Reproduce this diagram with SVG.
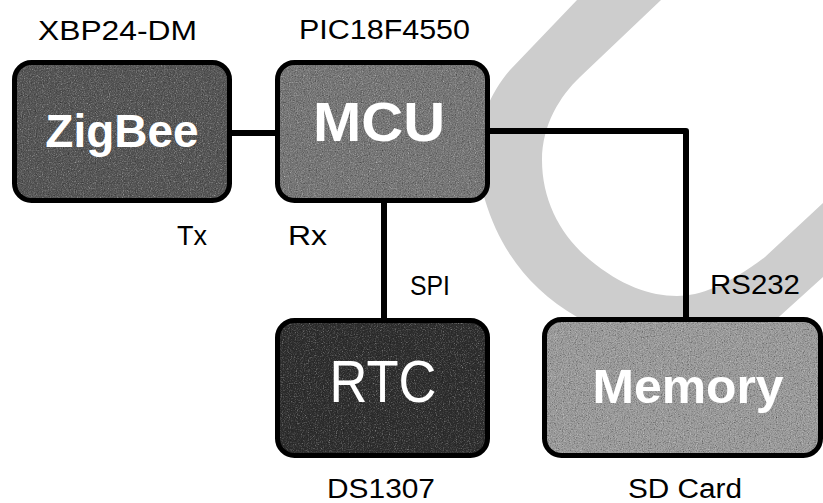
<svg xmlns="http://www.w3.org/2000/svg" width="823" height="503" viewBox="0 0 823 503">
  <style>
    .box { stroke: #000; stroke-width: 5; }
    .frame { fill: none; stroke: #000; stroke-width: 5; }
    .name { font-family: "Liberation Sans", Arial, sans-serif; font-weight: bold; fill: #fff; text-anchor: middle; }
    .lbl { font-family: "Liberation Sans", Arial, sans-serif; font-size: 27px; fill: #000; }
    .wire { fill: none; stroke: #000; stroke-width: 6; stroke-linejoin: round; }
  </style>
  <defs>
    <filter id="grain" x="0" y="0" width="100%" height="100%" color-interpolation-filters="sRGB">
      <feTurbulence type="fractalNoise" baseFrequency="0.85" numOctaves="3" seed="7" result="noise"/>
      <feColorMatrix in="noise" type="saturate" values="0" result="gray"/>
      <feBlend in="SourceGraphic" in2="gray" mode="overlay" result="mix"/>
      <feComposite in="mix" in2="SourceGraphic" operator="in"/>
    </filter>
  </defs>
  <rect width="823" height="503" fill="#fff"/>
  <!-- background band -->
  <path d="M577,0 L661,0 L580,77 C560,96 542,125 542,160 C542,200 560,235 590,260 C620,285 650,296 677,296 C700,296 728,285 765,257 L823,203 L823,277 L770,325 C750,338 725,345 700,346 C660,348 620,340 577,317 C530,290 500,250 485,200 C470,150 480,105 510,70 Z" fill="#cdcdcd"/>
  <g id="connectors">
    <line class="wire" x1="230" y1="133" x2="278" y2="133"/>
    <path class="wire" d="M487,131 L686,131 L686,320"/>
    <line class="wire" x1="384" y1="200" x2="384" y2="322"/>
  </g>
  <g id="zigbee">
    <rect x="14.5" y="62.5" width="215" height="138" rx="17" fill="#555" filter="url(#grain)"/>
    <rect class="frame" x="14.5" y="62.5" width="215" height="138" rx="17"/>
    <text class="name" x="122" y="147" font-size="46">ZigBee</text>
    <text class="lbl" x="38" y="40" textLength="159" lengthAdjust="spacingAndGlyphs">XBP24-DM</text>
    <text class="lbl" x="177" y="245" textLength="30" lengthAdjust="spacingAndGlyphs">Tx</text>
  </g>
  <g id="mcu">
    <rect x="277.5" y="62.5" width="210" height="138" rx="17" fill="#767676" filter="url(#grain)"/>
    <rect class="frame" x="277.5" y="62.5" width="210" height="138" rx="17"/>
    <text class="name" x="379" y="141" font-size="56" textLength="132" lengthAdjust="spacingAndGlyphs">MCU</text>
    <text class="lbl" x="299" y="39" textLength="171" lengthAdjust="spacingAndGlyphs">PIC18F4550</text>
    <text class="lbl" x="288" y="245" textLength="39" lengthAdjust="spacingAndGlyphs">Rx</text>
  </g>
  <g id="rtc">
    <rect x="277.5" y="320.5" width="210" height="135" rx="17" fill="#2e2e2e" filter="url(#grain)"/>
    <rect class="frame" x="277.5" y="320.5" width="210" height="135" rx="17"/>
    <text class="name" x="383" y="402" font-size="60" font-weight="normal" style="font-weight:normal" textLength="107" lengthAdjust="spacingAndGlyphs">RTC</text>
    <text class="lbl" x="410" y="295" textLength="40" lengthAdjust="spacingAndGlyphs">SPI</text>
    <text class="lbl" x="327" y="498" textLength="108" lengthAdjust="spacingAndGlyphs">DS1307</text>
  </g>
  <g id="memory">
    <rect x="544.5" y="319.5" width="276" height="136" rx="17" fill="#9a9a9a" filter="url(#grain)"/>
    <rect class="frame" x="544.5" y="319.5" width="276" height="136" rx="17"/>
    <text class="name" x="688" y="403" font-size="48" textLength="191" lengthAdjust="spacingAndGlyphs">Memory</text>
    <text class="lbl" x="710" y="294" textLength="90" lengthAdjust="spacingAndGlyphs">RS232</text>
    <text class="lbl" x="628" y="498" textLength="114" lengthAdjust="spacingAndGlyphs">SD Card</text>
  </g>
</svg>
